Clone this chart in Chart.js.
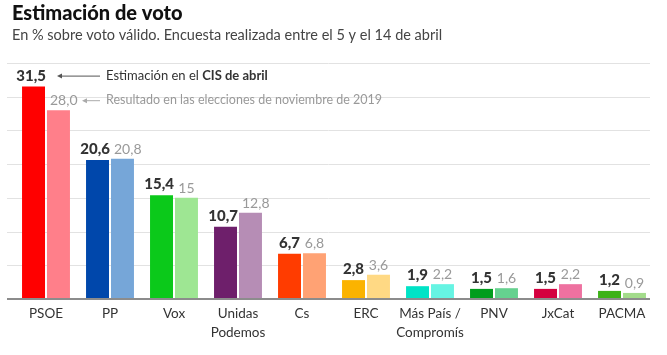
<!DOCTYPE html>
<html><head><meta charset="utf-8">
<script src="https://cdn.jsdelivr.net/npm/chart.js@4/dist/chart.umd.min.js"></script>
<style>
html,body{margin:0;padding:0;background:#fff;}
#wrap{position:relative;width:667px;height:355px;}
canvas{position:absolute;left:0;top:0;}
</style></head><body>
<div id="wrap"><canvas id="c" width="667" height="355"></canvas></div>
<script>
const categories = [["PSOE"],["PP"],["Vox"],["Unidas","Podemos"],["Cs"],["ERC"],["Más País /","Compromís"],["PNV"],["JxCat"],["PACMA"]];
const cisValues = [31.5,20.6,15.4,10.7,6.7,2.8,1.9,1.5,1.5,1.2];
const electionValues = [28.0,20.8,15,12.8,6.8,3.6,2.2,1.6,2.2,0.9];
const cisLabels = ["31,5","20,6","15,4","10,7","6,7","2,8","1,9","1,5","1,5","1,2"];
const electionLabels = ["28,0","20,8","15","12,8","6,8","3,6","2,2","1,6","2,2","0,9"];
const yTicks = [0,5,10,15,20,25,30,35];
const cisColors = ["#ff0000","#0047ab","#0bc91a","#6e1f6b","#ff3c00","#fbb300","#00e3c6","#019d1d","#d4003f","#3db218"];
const electionColors = ["#ff7f8a","#76a6d8","#9ee693","#b68db5","#ffa274","#ffd984","#66f4e3","#65d18f","#ee71a0","#a3dc8b"];

const FONT = "Lato, 'Open Sans', sans-serif";

const drawPlugin = {
  id:'drawPlugin',
  beforeDatasetsDraw(chart){
    const ctx = chart.ctx, y = chart.scales.y;
    ctx.save();
    ctx.strokeStyle = '#e2e2e2'; ctx.lineWidth = 1;
    yTicks.forEach(v=>{
      if(v===0) return;
      const py = Math.round(y.getPixelForValue(v))+0.5;
      ctx.beginPath(); ctx.moveTo(7,py); ctx.lineTo(650,py); ctx.stroke();
    });
    ctx.restore();
  },
  afterDatasetsDraw(chart){
    const ctx = chart.ctx, y = chart.scales.y;
    ctx.save();
    const by = y.getPixelForValue(0);
    ctx.strokeStyle = '#8c8c8c'; ctx.lineWidth = 2;
    ctx.beginPath(); ctx.moveTo(7,by); ctx.lineTo(650,by); ctx.stroke();
    const m0 = chart.getDatasetMeta(0).data, m1 = chart.getDatasetMeta(1).data;
    ctx.textBaseline='alphabetic'; ctx.textAlign='left';
    const boldRight = [];
    m0.forEach((b,i)=>{
      ctx.fillStyle='#333'; ctx.font='900 15px '+FONT;
      const w = ctx.measureText(cisLabels[i]).width;
      const half = b.width/2;
      let left = b.x - w/2;
      if (w > b.width) left = b.x + half + 1 - w;
      boldRight[i] = left + w;
      ctx.fillText(cisLabels[i], left, b.y-6);
    });
    m1.forEach((b,i)=>{
      ctx.fillStyle='#999'; ctx.font='400 14px '+FONT;
      const w = ctx.measureText(electionLabels[i]).width;
      let left = Math.max(b.x - w/2, boldRight[i] + 4);
      ctx.fillText(electionLabels[i], left, b.y-5);
    });
    // annotations
    const b0 = m0[0], b1 = m1[0];
    const ay1 = b0.y-11, ay2 = b1.y-10;
    function arrow(x1,x2,yy,col){
      ctx.strokeStyle=col; ctx.fillStyle=col; ctx.lineWidth=1;
      ctx.beginPath(); ctx.moveTo(x1+3,yy+0.5); ctx.lineTo(x2,yy+0.5); ctx.stroke();
      ctx.beginPath(); ctx.moveTo(x1,yy+0.5); ctx.lineTo(x1+5,yy-2); ctx.lineTo(x1+5,yy+3); ctx.closePath(); ctx.fill();
    }
    arrow(57,100,ay1,'#555');
    arrow(82,100,ay2,'#aaa');
    ctx.textAlign='left'; ctx.textBaseline='middle';
    ctx.font='400 13px '+FONT; ctx.fillStyle='#333';
    const t1='Estimación en el ';
    ctx.fillText(t1,106,ay1);
    const w1 = ctx.measureText(t1).width;
    ctx.font='700 13px '+FONT;
    ctx.fillText('CIS de abril',106+w1,ay1);
    ctx.font='400 12.5px '+FONT; ctx.fillStyle='#999';
    ctx.fillText('Resultado en las elecciones de noviembre de 2019',106,ay2);
    // titles
    ctx.fillStyle='#111'; ctx.font='900 20px '+FONT; ctx.textBaseline='alphabetic';
    ctx.fillText('Estimación de voto',12,20);
    ctx.fillStyle='#444'; ctx.font='400 14.5px '+FONT;
    ctx.fillText('En % sobre voto válido. Encuesta realizada entre el 5 y el 14 de abril',12,40);
    ctx.restore();
  }
};

new Chart(document.getElementById('c'),{
  type:'bar',
  data:{
    labels:categories,
    datasets:[
      {label:'Estimación en el CIS de abril',data:cisValues,backgroundColor:cisColors,categoryPercentage:0.78,barPercentage:0.92},
      {label:'Resultado en las elecciones de noviembre de 2019',data:electionValues,backgroundColor:electionColors,categoryPercentage:0.78,barPercentage:0.92}
    ]
  },
  options:{
    responsive:false,animation:false,
    layout:{padding:{left:14,right:13,top:63,bottom:0}},
    plugins:{legend:{display:false},tooltip:{enabled:false}},
    scales:{
      y:{display:false,min:0,max:35},
      x:{
        grid:{display:false,drawTicks:false},border:{display:false},
        ticks:{color:'#333',font:{family:FONT,size:13.5,lineHeight:1.4},padding:5,maxRotation:0,autoSkip:false},
        afterFit(s){s.height=56;}
      }
    }
  },
  plugins:[drawPlugin]
});
</script>
</body></html>
